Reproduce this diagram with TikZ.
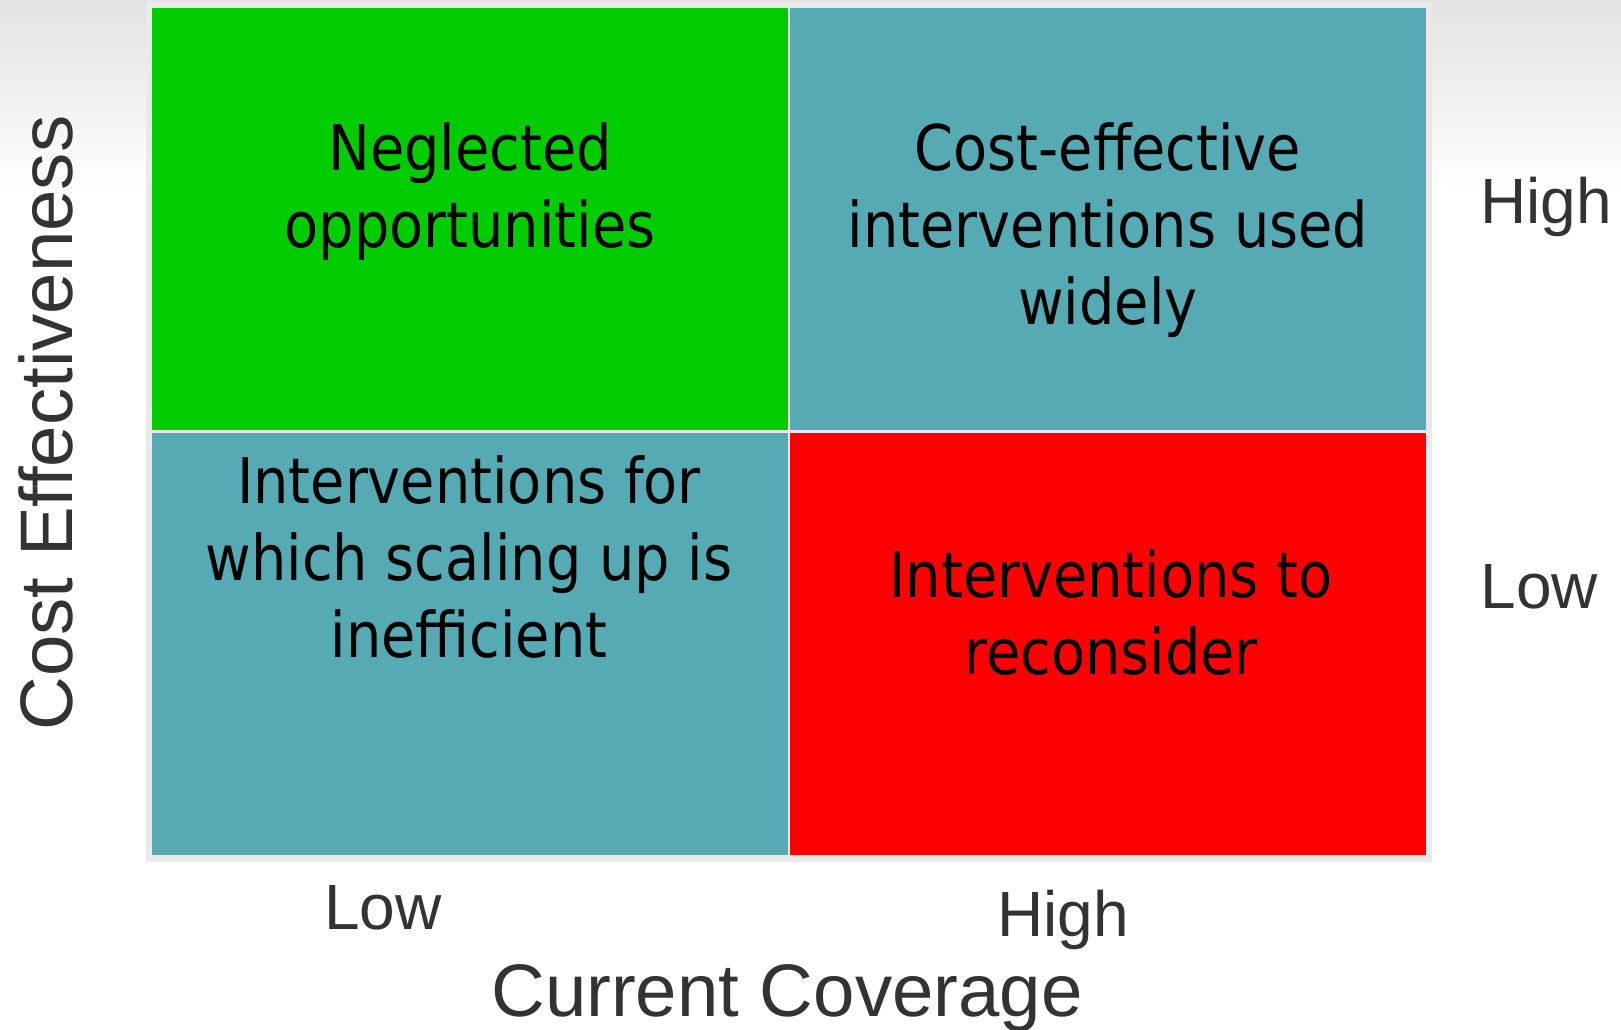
\documentclass[tikz,border=0pt]{standalone}
\usepackage{fontspec}
\setmainfont{Liberation Sans}
\newfontfamily\cellfont[FakeStretch=0.885]{DejaVu Sans}
\definecolor{cgreen}{HTML}{00CC00}
\definecolor{cteal}{HTML}{55AAB3}
\definecolor{cred}{HTML}{FF0000}
\definecolor{axisgray}{HTML}{333333}
\definecolor{bggray}{HTML}{E2E2E2}
\definecolor{framegray}{HTML}{EAEAEA}
\begin{document}
\begin{tikzpicture}[x=0.5pt,y=-0.5pt,
  cellbox/.style={draw=none, inner sep=0pt, outer sep=0pt, anchor=north west,
    minimum width=318pt, minimum height=211pt},
  celltext/.style={font=\cellfont\fontsize{31.5}{38.5}\selectfont, align=center,
    inner sep=0pt, text=black, anchor=base},
  axislabel/.style={font=\fontsize{32}{38}\selectfont, text=axisgray,
    inner sep=0pt, anchor=base west},
  axistitle/.style={font=\fontsize{37.2}{44}\selectfont, text=axisgray,
    inner sep=0pt, anchor=base}]
\useasboundingbox (0,0) rectangle (1621,1029);
\fill[white] (0,0) rectangle (1621,1029);
\shade[top color=bggray, bottom color=white] (0,0) rectangle (1621,190);
\fill[framegray] (146,2) rectangle (1432,862);
% cells
\node[cellbox, fill=cgreen] (tl) at (152,8) {};
\node[cellbox, fill=cteal] (tr) at (790,8) {};
\node[cellbox, fill=cteal] (bl) at (152,433) {};
\node[cellbox, fill=cred] (br) at (790,433) {};
% cell texts (base anchor = baseline of the last line)
\node[celltext] (tltext) at (470,247) {Neglected\\opportunities};
\node[celltext] (trtext) at (1108,324) {Cost-effective\\interventions used\\widely};
\node[celltext] (bltext) at (469,657) {Interventions for\\which scaling up is\\inefficient};
\node[celltext] (brtext) at (1111,674) {Interventions to\\reconsider};
% axis labels
\node[axislabel] (yhigh) at (1480,223) {High};
\node[axislabel] (ylow) at (1480,608) {Low};
\node[axislabel] (xlow) at (324,929) {Low};
\node[axislabel] (xhigh) at (997,936) {High};
\node[axistitle] (xtitle) at (787,1016) {Current Coverage};
\node[axistitle, rotate=90] (ytitle) at (72,423) {Cost Effectiveness};
\end{tikzpicture}
\end{document}
